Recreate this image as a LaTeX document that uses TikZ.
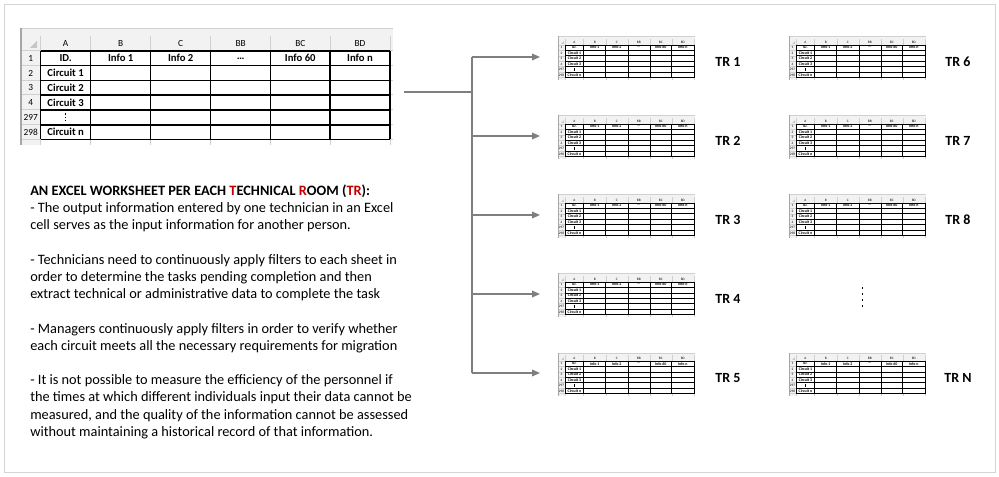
\documentclass[tikz,border=0pt]{standalone}
\usepackage{fontspec}
\setmainfont{Carlito}
\usetikzlibrary{arrows.meta}

\definecolor{trred}{HTML}{C00000}
\definecolor{linkgray}{HTML}{7F7F7F}
\definecolor{gridgray}{HTML}{D0D0D0}
\definecolor{headgray}{HTML}{F2F2F2}
\definecolor{framegray}{HTML}{D4D4D4}

\tikzset{
    link/.style={draw=linkgray, line width=1.1pt},
    tip/.style={-{Triangle[length=6pt,width=5pt]}},
    trlabel/.style={font=\fontsize{10.5}{12}\selectfont\bfseries},
}

% one worksheet, drawn from its top left corner (x, y, scale)
\newcommand{\sheet}[3]{%
    \begin{scope}[shift={(#1,#2)}, scale=#3,
        every node/.append style={transform shape, inner sep=0pt},
        thingrid/.style={draw=gridgray, line width=#3*0.75pt},
        cellline/.style={draw=black, line width=#3*1pt}]
        \fill[headgray] (0,0) rectangle (372,23);
        \fill[headgray] (0,23) rectangle (19.5,117);
        \draw[thingrid] (0,0.5) -- (372,0.5);
        \foreach \x in {19.5,69.7,129.7,189.7,249.7,309,369} {
            \draw[thingrid] (\x,8) -- (\x,23);
            \draw[thingrid] (\x,111.5) -- (\x,117);
        }
        \foreach \y in {23,37.7,52.3,67,82,97,111.5} {
            \draw[thingrid] (0,\y) -- (19.5,\y);
            \draw[thingrid] (369,\y) -- (372,\y);
        }
        %cells
        \foreach \x in {19.5,69.7,129.7,189.7,249.7,309,369}
            \draw[cellline] (\x,23) -- (\x,111.5);
        \foreach \y in {23,37.7,52.3,67,82,97,111.5}
            \draw[cellline] (19.5,\y) -- (369,\y);
        \draw[draw=gray!70, line width=#3*2pt] (0,0) -- (0,117);
        \fill[gray!45] (16,20) -- (16,13) -- (9,20) -- cycle;
        %column letters
        \foreach \x/\c in {44.6/A,99.7/B,159.7/C,219.7/BB,279.3/BC,339/BD}
            \node[font=\fontsize{7}{8}\selectfont] at (\x,15.5) {\c};
        %row numbers
        \foreach \y/\r in {30.3/1,45/2,59.6/3,74.5/4,89.5/297,104.2/298}
            \node[font=\fontsize{7}{8}\selectfont] at (9.7,\y) {\r};
        \foreach \x/\t in {44.6/ID.,99.7/Info 1,159.7/Info 2,219.7/\ldots,279.3/Info 60,339/Info n}
            \node[font=\fontsize{8}{9}\selectfont\bfseries] at (\x,30.3) {\t};
        \foreach \y/\t in {45/Circuit 1,59.6/Circuit 2,74.5/Circuit 3,104.2/Circuit n}
            \node[font=\fontsize{8}{9}\selectfont\bfseries] at (44.6,\y) {\t};
        %vertical dots
        \foreach \d in {-4,-0.7,2.6}
            \fill (43.9,89.5+\d) rectangle ++(1.4,1.4);
    \end{scope}}

\begin{document}
\begin{tikzpicture}[x=0.75pt, y=-0.75pt]

    \useasboundingbox (0,0) rectangle (999,477);
    \draw[framegray, line width=0.75pt] (4,5) rectangle (995,472);

    \sheet{21}{28}{1}

    % base of the node is the last line
    \node[anchor=base west, align=left, inner sep=0pt,
          font=\fontsize{10.75}{12.9}\selectfont] (notes) at (30,436.2) {%
        \textbf{AN EXCEL WORKSHEET PER EACH \textcolor{trred}{T}ECHNICAL \textcolor{trred}{R}OOM (\textcolor{trred}{TR}):}\\
        - The output information entered by one technician in an Excel\\
        cell serves as the input information for another person.\\
        ~\\
        - Technicians need to continuously apply filters to each sheet in\\
        order to determine the tasks pending completion and then\\
        extract technical or administrative data to complete the task\\
        ~\\
        - Managers continuously apply filters in order to verify whether\\
        each circuit meets all the necessary requirements for migration\\
        ~\\
        - It is not possible to measure the efficiency of the personnel if\\
        the times at which different individuals input their data cannot be\\
        measured, and the quality of the information cannot be assessed\\
        without maintaining a historical record of that information.};

    %left column
    \foreach \i/\yy in {1/57,2/136,3/215,4/294,5/373} {
        \sheet{558}{\yy-20.5}{0.368}
        \coordinate (s\i) at (540,\yy);
        \node[trlabel] (tr\i) at (728,\yy+5) {TR \i};
    }
    %right column
    \foreach \i/\yy in {6/57,7/136,8/215,N/373} {
        \sheet{789}{\yy-20.5}{0.368}
        \node[trlabel] (tr\i) at (958,\yy+5) {TR \i};
    }
    \foreach \k in {0,1,2,3}
        \fill (861.7,287.2+6*\k) rectangle ++(1.6,1.6);

    %links
    \coordinate (src) at (404,92);
    \coordinate (split) at (472,92);
    \draw[link] (src) -- (split);
    \draw[link] (split |- s1) -- (split |- s5);
    \foreach \i in {1,...,5}
        \draw[link, tip] (split |- s\i) -- (s\i);

\end{tikzpicture}
\end{document}
